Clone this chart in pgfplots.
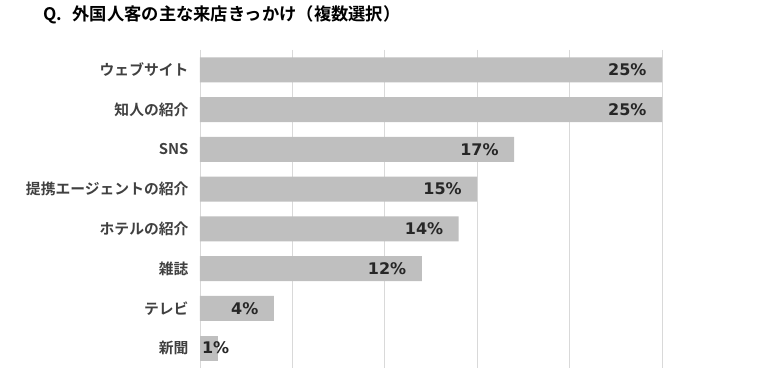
\documentclass[border=0pt]{standalone}
\usepackage{pgfplots}
\pgfplotsset{compat=1.18}
\usepackage{fontspec}
\usetikzlibrary{calc}
\newfontfamily\jp{Noto Sans CJK JP}[BoldFont={Noto Sans CJK JP Bold}]
\newfontfamily\dv{DejaVu Sans}
\definecolor{barc}{HTML}{BFBFBF}
\definecolor{gridc}{HTML}{D9D9D9}
\definecolor{txt}{HTML}{404040}
\definecolor{lbl}{HTML}{262626}
\begin{document}
\begin{tikzpicture}
\begin{axis}[
  scale only axis, width=462pt, height=318pt,
  xbar, bar width=25pt,
  xmin=0, xmax=25, ymin=-0.5, ymax=7.5, y dir=reverse,
  xtick={0,5,10,15,20,25}, xticklabels={},
  ytick={0,...,7},
  yticklabels={ウェブサイト,知人の紹介,SNS,提携エージェントの紹介,ホテルの紹介,雑誌,テレビ,新聞},
  yticklabel style={font=\jp\bfseries\fontsize{14.8}{16}\selectfont, text=txt, xshift=-8pt},
  xmajorgrids, major grid style={gridc, line width=0.8pt},
  axis line style={draw=none}, major tick length=0pt,
  point meta=explicit symbolic,
  clip=false,
]
\addplot[fill=barc, draw=none, bar shift=0pt, nodes near coords,
  every node near coord/.append style={font=\dv\bfseries\fontsize{16}{18}\selectfont, text=lbl, anchor=east, xshift=-12pt}]
  coordinates {(25,0)[25\%] (25,1)[25\%] (17,2)[17\%] (15,3)[15\%] (14,4)[14\%] (12,5)[12\%] (4,6)[4\%]};
\addplot[fill=barc, draw=none, bar shift=0pt, nodes near coords,
  every node near coord/.append style={font=\dv\bfseries\fontsize{16}{18}\selectfont, text=lbl, anchor=west, xshift=-20pt}]
  coordinates {(1,7)[1\%]};
\end{axis}
\node[anchor=west, inner sep=0pt, font=\jp\bfseries\fontsize{17.3}{19}\selectfont, text=black] at ($(current axis.north west)+(-157pt,35pt)$) {Q.\hspace{0.6em}外国人客の主な来店きっかけ（複数選択）};
\pgfresetboundingbox
\path ($(current axis.south west)+(-200pt,-18pt)$) rectangle ($(current axis.north east)+(103pt,50pt)$);
\end{tikzpicture}
\end{document}
